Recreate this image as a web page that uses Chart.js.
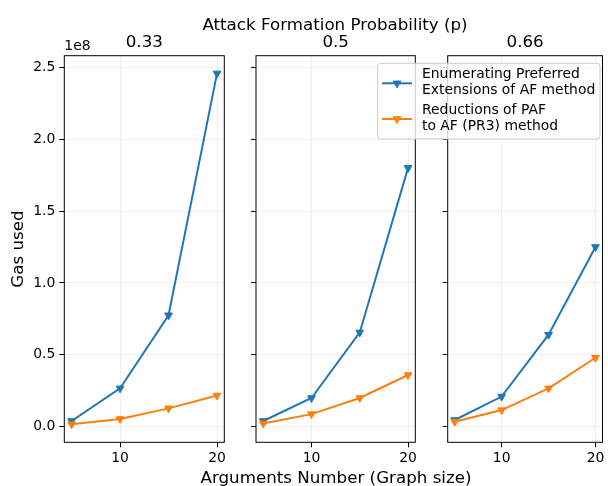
<!DOCTYPE html>
<html>
<head>
<meta charset="utf-8">
<script src="https://cdn.jsdelivr.net/npm/chart.js@4.4.1/dist/chart.umd.min.js"></script>
<style>
  body { margin: 0; background: #fff; font-family: "DejaVu Sans", sans-serif; }
  #fig { position: relative; width: 608px; height: 486px; overflow: hidden; }
  #fig canvas { position: absolute; left: 0; top: 0; }
  .lbl { position: absolute; font-size: 16.7px; color: #000; white-space: nowrap; transform: translate(-50%, -50%); }
</style>
</head>
<body>
<div id="fig">
  <canvas id="p1" width="608" height="486"></canvas>
  <canvas id="p2" width="608" height="486"></canvas>
  <canvas id="p3" width="608" height="486"></canvas>
  <div class="lbl" style="left:335px; top:24px;">Attack Formation Probability (p)</div>
  <div class="lbl" style="left:336px; top:477px;">Arguments Number (Graph size)</div>
</div>
<script>
// data (gas used)
const xValues = [5, 10, 15, 20];
const probLabels = ['0.33', '0.5', '0.66'];
const enumP033 = [4.0e6, 2.67e7, 7.75e7, 2.457e8];
const reducP033 = [1.7e6, 5.4e6, 1.28e7, 2.18e7];
const enumP05 = [4.0e6, 2.0e7, 6.56e7, 1.80e8];
const reducP05 = [2.3e6, 8.8e6, 2.0e7, 3.6e7];
const enumP066 = [4.7e6, 2.1e7, 6.4e7, 1.25e8];
const reducP066 = [3.5e6, 1.16e7, 2.67e7, 4.8e7];
const yTicks = [0, 0.5e8, 1.0e8, 1.5e8, 2.0e8, 2.5e8];
const xTicks = [10, 20];
const seriesNames = ['Enumerating Preferred Extensions of AF method', 'Reductions of PAF to AF (PR3) method'];
const legendLines = [['Enumerating Preferred', 'Extensions of AF method'], ['Reductions of PAF', 'to AF (PR3) method']];

const BLUE = '#1f77b4', ORANGE = '#ff7f0e';
const FONT = '"DejaVu Sans", sans-serif';
const SMALL = 13.9, BIG = 16.7;
const W = 608, H = 486;
const plotTop = 55.7, plotBottom = 442.3;

// panel frames
const panels = [
    { id: 'p1', left: 64.3, right: 224.3, enumVals: enumP033, reducVals: reducP033, first: true },
    { id: 'p2', left: 256, right: 415.3, enumVals: enumP05, reducVals: reducP05 },
    { id: 'p3', left: 447.7, right: 607, enumVals: enumP066, reducVals: reducP066, legend: true }
];

function drawTri(ctx, x, y, r) {
    ctx.beginPath();
    ctx.moveTo(x, y + r);
    ctx.lineTo(x - r * 0.866, y - r * 0.5);
    ctx.lineTo(x + r * 0.866, y - r * 0.5);
    ctx.closePath();
    ctx.fill();
    ctx.stroke();
}

function drawLegend(chart) {
    const ctx = chart.ctx;
    ctx.fillStyle = 'rgba(255,255,255,0.8)';
    ctx.strokeStyle = '#cccccc';
    ctx.lineWidth = 1;
    ctx.beginPath();
    ctx.roundRect(377.7, 63.3, 222.3, 75.7, 3);
    ctx.fill();
    ctx.stroke();

    const colors = [BLUE, ORANGE];
    const handleY = [83.3, 119];
    const textY = [[74.5, 90.2], [110.5, 126.2]];
    ctx.font = SMALL + 'px ' + FONT;
    ctx.textAlign = 'left';
    ctx.textBaseline = 'middle';
    legendLines.forEach((lines, i) => {
        ctx.strokeStyle = colors[i];
        ctx.fillStyle = colors[i];
        ctx.lineWidth = 2;
        ctx.beginPath();
        ctx.moveTo(382, handleY[i]);
        ctx.lineTo(412, handleY[i]);
        ctx.stroke();
        ctx.lineWidth = 1;
        drawTri(ctx, 397, handleY[i], 4.5);
        ctx.fillStyle = '#000';
        lines.forEach((t, j) => ctx.fillText(t, 422, textY[i][j]));
    });
}

const panelDecor = {
    id: 'panelDecor',
    afterDraw(chart, args, opts) {
        const { ctx, chartArea: a } = chart;
        ctx.save();
        ctx.strokeStyle = '#000';
        ctx.lineWidth = 1;
        ctx.strokeRect(a.left, a.top, a.right - a.left, a.bottom - a.top);
        ctx.fillStyle = '#000';
        ctx.font = BIG + 'px ' + FONT;
        ctx.textAlign = 'center';
        ctx.textBaseline = 'middle';
        ctx.fillText(opts.title, (a.left + a.right) / 2, 42.5);
        if (opts.offsetText) {
            ctx.font = SMALL + 'px ' + FONT;
            ctx.textAlign = 'left';
            ctx.textBaseline = 'bottom';
            ctx.fillText('1e8', a.left, a.top - 2);
        }
        if (opts.legend) drawLegend(chart);
        ctx.restore();
    }
};

panels.forEach((p, i) => {
    const yW = p.first ? p.left : 10;
    const xH = 30;
    new Chart(document.getElementById(p.id), {
        type: 'line',
        data: {
            datasets: [
                {
                    label: seriesNames[0],
                    data: xValues.map((x, k) => ({ x, y: p.enumVals[k] })),
                    borderColor: BLUE, backgroundColor: BLUE,
                    borderWidth: 2, pointStyle: 'triangle', rotation: 180,
                    pointRadius: 4.5, pointBorderWidth: 1, tension: 0, order: 1
                },
                {
                    label: seriesNames[1],
                    data: xValues.map((x, k) => ({ x, y: p.reducVals[k] })),
                    borderColor: ORANGE, backgroundColor: ORANGE,
                    borderWidth: 2, pointStyle: 'triangle', rotation: 180,
                    pointRadius: 4.5, pointBorderWidth: 1, tension: 0, order: 0
                }
            ]
        },
        options: {
            responsive: false,
            animation: false,
            events: [],
            layout: { padding: { left: p.left - yW, right: W - p.right, top: plotTop, bottom: H - plotBottom - xH } },
            plugins: {
                legend: { display: false },
                tooltip: { enabled: false },
                panelDecor: { title: probLabels[i], offsetText: !!p.first, legend: !!p.legend }
            },
            scales: {
                x: {
                    type: 'linear', min: 4.25, max: 20.75,
                    afterBuildTicks: s => { s.ticks = xTicks.map(v => ({ value: v })); },
                    afterFit: s => { s.height = xH; },
                    ticks: { color: '#000', font: { family: FONT, size: SMALL }, padding: 3, maxRotation: 0 },
                    grid: { color: '#ebebeb', lineWidth: 0.8, tickColor: '#000', tickLength: 5, tickWidth: 1 },
                    border: { display: false }
                },
                y: {
                    type: 'linear', min: -0.108e8, max: 2.58e8,
                    afterBuildTicks: s => { s.ticks = yTicks.map(v => ({ value: v })); },
                    afterFit: s => { s.width = yW; },
                    ticks: {
                        display: !!p.first, color: '#000', font: { family: FONT, size: SMALL }, padding: 4,
                        callback: v => (v / 1e8).toFixed(1)
                    },
                    grid: { color: '#ebebeb', lineWidth: 0.8, tickColor: '#000', tickLength: 5, tickWidth: 1 },
                    border: { display: false },
                    title: {
                        display: !!p.first, text: 'Gas used', color: '#000',
                        font: { family: FONT, size: BIG }, padding: { top: 9, bottom: 0 }
                    }
                }
            }
        },
        plugins: [panelDecor]
    });
});
</script>
</body>
</html>
